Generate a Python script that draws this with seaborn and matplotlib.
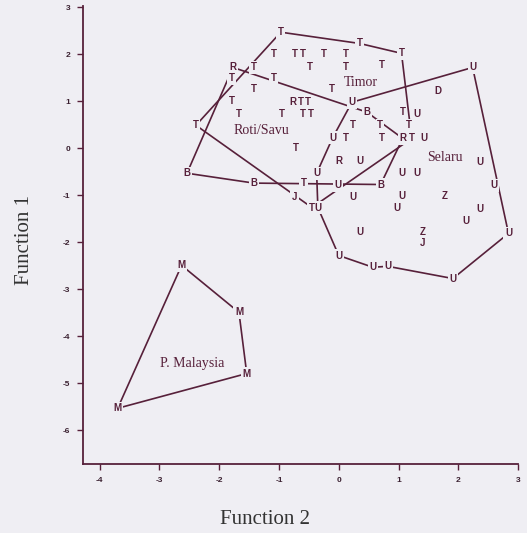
import pandas as pd
import seaborn as sns
import matplotlib.pyplot as plt

# letter codes (Function 2 = x, Function 1 = y)
t_x = [-0.97, 0.35, 1.05, -1.09, -0.74, -0.60, -0.25, 0.12, -0.48, 0.12, 0.72, -1.42,
       -1.79, -1.09, -1.42, -0.12, -1.79, -0.64, -0.52, -1.67, -0.95, -0.60, -0.47, 1.07,
       -2.39, 0.23, 0.69, 1.17, 0.12, 0.72, 1.22, -0.72, -0.59, -0.45]
t_y = [2.47, 2.23, 2.02, 2.00, 2.00, 2.00, 2.00, 2.00, 1.74, 1.74, 1.77, 1.72,
       1.49, 1.49, 1.26, 1.26, 1.00, 0.98, 0.98, 0.74, 0.74, 0.74, 0.74, 0.77,
       0.49, 0.49, 0.49, 0.49, 0.23, 0.23, 0.21, 0.00, -0.74, -1.26]
r_x = [-1.77, -0.77, 1.07, 0.00]
r_y = [1.72, 0.98, 0.21, -0.28]
b_x = [0.47, -2.54, -1.42, 0.70]
b_y = [0.77, -0.53, -0.74, -0.77]
u_x = [0.22, 2.24, 1.30, 1.42, -0.10, 0.35, 2.36, -0.37, 1.05, 1.30, -0.02, 2.59,
       0.23, 1.05, 0.97, -0.35, 2.37, 2.12, 0.35, 2.84, 0.00, 0.57, 0.82, 1.91]
u_y = [0.98, 1.72, 0.74, 0.21, 0.23, -0.28, -0.30, -0.53, -0.53, -0.53, -0.79, -0.79,
       -1.04, -1.02, -1.28, -1.26, -1.30, -1.55, -1.79, -1.81, -2.28, -2.53, -2.51, -2.77]
j_x = [-0.74, 1.40]
j_y = [-1.04, -2.02]
z_x = [1.77, 1.40]
z_y = [-1.02, -1.77]
d_x = [1.66]
d_y = [1.21]
m_x = [-2.63, -1.67, -1.54, -3.70]
m_y = [-2.49, -3.49, -4.79, -5.53]

# group outlines
timor_x = [-0.97, 0.35, 1.05, 1.22, -0.45, -2.39]
timor_y = [2.47, 2.23, 2.02, 0.21, -1.26, 0.49]
rotisavu_x = [-1.77, 0.47, 1.07, 0.70, -1.42, -2.54]
rotisavu_y = [1.72, 0.77, 0.21, -0.77, -0.74, -0.53]
selaru_x = [0.22, 2.24, 2.84, 1.91, 0.82, 0.57, 0.00, -0.35, -0.37, -0.10]
selaru_y = [0.98, 1.72, -1.81, -2.77, -2.51, -2.53, -2.28, -1.26, -0.53, 0.23]
malaysia_x = [-2.63, -1.67, -1.54, -3.70]
malaysia_y = [-2.49, -3.49, -4.79, -5.53]

group_names = ["Timor", "Roti/Savu", "Selaru", "P. Malaysia"]
group_label_x = [0.37, -1.29, 1.78, -2.46]
group_label_y = [1.40, 0.38, -0.19, -4.57]

ink = "#57203a"
bg = "#efeef3"

pts = pd.concat([
    pd.DataFrame({"x": t_x, "y": t_y, "code": "T"}),
    pd.DataFrame({"x": r_x, "y": r_y, "code": "R"}),
    pd.DataFrame({"x": b_x, "y": b_y, "code": "B"}),
    pd.DataFrame({"x": u_x, "y": u_y, "code": "U"}),
    pd.DataFrame({"x": j_x, "y": j_y, "code": "J"}),
    pd.DataFrame({"x": z_x, "y": z_y, "code": "Z"}),
    pd.DataFrame({"x": d_x, "y": d_y, "code": "D"}),
    pd.DataFrame({"x": m_x, "y": m_y, "code": "M"}),
], ignore_index=True)

rings = []
for name, hx, hy in [("timor", timor_x, timor_y), ("rotisavu", rotisavu_x, rotisavu_y),
                     ("selaru", selaru_x, selaru_y), ("malaysia", malaysia_x, malaysia_y)]:
    rings.append(pd.DataFrame({"x": hx + hx[:1], "y": hy + hy[:1], "grp": name}))
hulls = pd.concat(rings, ignore_index=True)

sns.set_theme(style="white")
plt.rcParams["font.family"] = ["Liberation Serif", "DejaVu Serif"]

fig = plt.figure(figsize=(5.27, 5.33), dpi=100)
fig.patch.set_facecolor(bg)
ax = fig.add_axes([0.1575, 0.129, 0.8255, 0.86])
ax.set_facecolor(bg)

sns.lineplot(data=hulls, x="x", y="y", units="grp", estimator=None, sort=False,
             color=ink, linewidth=1.2, ax=ax, zorder=1)

# knock the outline out behind each letter, then draw the letters on top
letter_style = dict(ha="center", va="center", fontsize=7, fontweight="bold",
                    family="Liberation Sans")
for _, row in pts.iterrows():
    ax.text(row["x"], row["y"], row["code"], color=bg, zorder=2,
            bbox=dict(boxstyle="square,pad=0.15", fc=bg, ec="none"), **letter_style)
for _, row in pts.iterrows():
    ax.text(row["x"], row["y"], row["code"], color=ink, zorder=3, **letter_style)

for name, lx, ly in zip(group_names, group_label_x, group_label_y):
    ax.text(lx, ly, name, ha="center", va="center", fontsize=10, color=ink, zorder=4)

ax.set_xlim(-4.28, 3.0)
ax.set_ylim(-6.72, 3.03)
ax.set_xticks(range(-4, 4))
ax.set_yticks(range(-6, 4))
ax.set_xticklabels([str(v) for v in range(-4, 4)])
ax.set_yticklabels([str(v) for v in range(-6, 4)])
ax.tick_params(direction="out", length=4, width=1, color=ink, labelcolor="#3a2030",
               labelsize=6, bottom=True, left=True, pad=5)
for lab in ax.get_xticklabels() + ax.get_yticklabels():
    lab.set_fontweight("bold")
    lab.set_family("Liberation Sans")

for side in ["top", "right"]:
    ax.spines[side].set_visible(False)
for side in ["left", "bottom"]:
    ax.spines[side].set_color(ink)
    ax.spines[side].set_linewidth(1.3)

ax.set_xlabel("Function 2", fontsize=15, color="#333333")
ax.set_ylabel("Function 1", fontsize=15, color="#333333")
ax.xaxis.set_label_coords(0.418, -0.1)
ax.yaxis.set_label_coords(-0.112, 0.49)

fig.savefig("out.png", dpi=100, facecolor=bg)
